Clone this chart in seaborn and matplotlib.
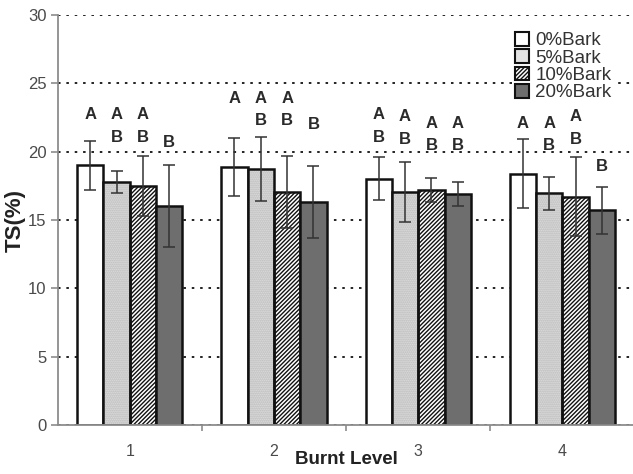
import pandas as pd
import matplotlib.pyplot as plt
import matplotlib.patches as mpatches
import seaborn as sns

levels = ["1", "2", "3", "4"]
barks = ["0%Bark", "5%Bark", "10%Bark", "20%Bark"]

ts_0 = [19.0, 18.85, 18.03, 18.4]
ts_5 = [17.8, 18.75, 17.05, 16.95]
ts_10 = [17.5, 17.05, 17.2, 16.7]
ts_20 = [16.0, 16.3, 16.9, 15.7]

sd_0 = [1.8, 2.13, 1.57, 2.5]
sd_5 = [0.8, 2.35, 2.2, 1.23]
sd_10 = [2.2, 2.65, 0.85, 2.9]
sd_20 = [3.0, 2.65, 0.9, 1.7]

# significance letters per bar (per bark level, per burnt level)
letters_0 = ["A", "A", "AB", "A"]
letters_5 = ["AB", "AB", "AB", "AB"]
letters_10 = ["AB", "AB", "AB", "AB"]
letters_20 = ["B", "B", "AB", "B"]

# height of the first letter of each group
letter_y_0 = [22.7, 23.9, 22.7, 22.07]
letter_y_5 = [22.7, 23.9, 22.55, 22.07]
letter_y_10 = [22.7, 23.9, 22.07, 22.55]
letter_y_20 = [20.7, 22.0, 22.07, 18.9]

means = [ts_0, ts_5, ts_10, ts_20]
sds = [sd_0, sd_5, sd_10, sd_20]
letters = [letters_0, letters_5, letters_10, letters_20]
letter_y = [letter_y_0, letter_y_5, letter_y_10, letter_y_20]

df = pd.DataFrame({
    "level": levels * 4,
    "bark": [b for b in barks for _ in levels],
    "ts": ts_0 + ts_5 + ts_10 + ts_20,
})

sns.set_style("white")
plt.rcParams["font.family"] = ["Liberation Sans", "DejaVu Sans"]
plt.rcParams["hatch.linewidth"] = 1.0

fig = plt.figure(figsize=(6.33, 4.74), dpi=100)
ax = fig.add_axes([57.6 / 633, 1 - 425 / 474, 577 / 633, 410 / 474])

colors = ["white", "#e2e2e2", "white", "#6e6e6e"]
sns.barplot(data=df, x="level", y="ts", hue="bark", hue_order=barks,
            palette=colors, errorbar=None, width=0.73, gap=0,
            edgecolor="#111111", linewidth=1.8, ax=ax, zorder=2)

bar_groups = list(ax.containers)
hatches = [None, None, "////////", None]
for i, cont in enumerate(bar_groups):
    for j, bar in enumerate(cont.patches):
        if hatches[i]:
            bar.set_hatch(hatches[i])
        if i == 1:
            # stippled texture: grey dots, dark outline drawn on top
            bar.set_hatch("........")
            bar.set_edgecolor("#b4b4b4")
            bar.set_linewidth(0)
            ax.add_patch(mpatches.Rectangle(bar.get_xy(), bar.get_width(), bar.get_height(),
                                            fill=False, edgecolor="#111111", linewidth=1.8, zorder=2.5))
        xc = bar.get_x() + bar.get_width() / 2
        ax.errorbar(xc, means[i][j], yerr=sds[i][j], fmt="none", ecolor="#333333",
                    elinewidth=1.1, capsize=4, capthick=1.1, zorder=3)
        for k, ch in enumerate(letters[i][j]):
            ax.text(xc, letter_y[i][j] - k * 1.65, ch, ha="center", va="center",
                    fontsize=12, fontweight="bold", color="#2a2a2a")

ax.set_ylim(0, 30)
ax.set_xlim(-0.5, 3.5)
ax.set_yticks(range(0, 31, 5))
ax.yaxis.grid(True, linestyle=(0, (1.3, 3.0)), color="#222222", linewidth=1.4)
ax.set_axisbelow(True)

for side in ["top", "right"]:
    ax.spines[side].set_visible(False)
for side in ["left", "bottom"]:
    ax.spines[side].set_color("#8c8c8c")
    ax.spines[side].set_linewidth(1.3)

ax.tick_params(axis="y", direction="out", length=5, width=1.2, color="#8c8c8c",
               labelsize=12, labelcolor="#4a4a4a", pad=3, left=True)
ax.set_xticks([0.5, 1.5, 2.5], minor=True)
ax.tick_params(axis="x", which="major", length=0, labelsize=11.5, labelcolor="#4a4a4a", pad=14)
ax.tick_params(axis="x", which="minor", direction="out", length=4, width=1.2,
               color="#8c8c8c", bottom=True)

ax.set_xlabel("Burnt Level", fontsize=13.5, fontweight="bold", color="#222222", labelpad=-6)
ax.set_ylabel("TS(%)", fontsize=16, fontweight="bold", color="#222222")
ax.yaxis.set_label_coords(-0.055, 0.5)

handles = [cont.patches[0] for cont in bar_groups]
leg = ax.legend(handles, barks, loc="upper left", bbox_to_anchor=(512 / 633, 1 - 29 / 474),
                bbox_transform=fig.transFigure, frameon=True, facecolor="white",
                edgecolor="none", framealpha=1, fancybox=False, fontsize=13.5,
                handlelength=0.75, handleheight=0.75, handletextpad=0.35,
                labelspacing=0.0, borderpad=0.15, borderaxespad=0)
for t in leg.get_texts():
    t.set_color("#333333")
for h in leg.legend_handles:
    h.set_edgecolor("#111111")
    h.set_linewidth(1.5)
leg.legend_handles[1].set_hatch(None)

fig.savefig("out.png", dpi=100)
